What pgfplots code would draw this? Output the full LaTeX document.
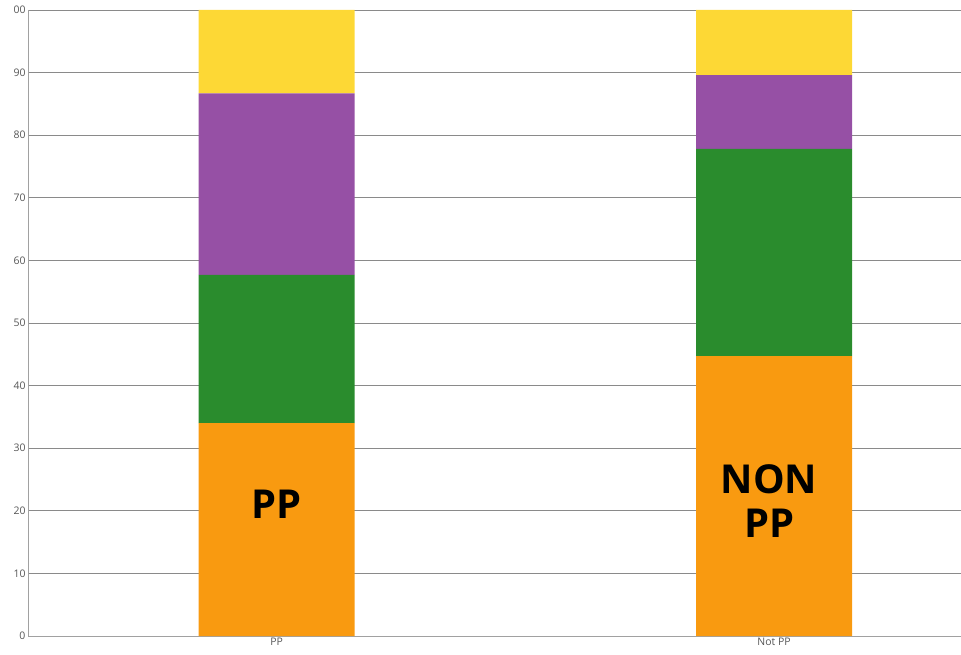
\documentclass[border=0pt]{standalone}
\usepackage{fontspec}
\setmainfont{Open Sans}
\usepackage{pgfplots}
\pgfplotsset{compat=1.18}

\definecolor{cOrange}{HTML}{F99A10}
\definecolor{cGreen}{HTML}{2A8C2D}
\definecolor{cPurple}{HTML}{9650A5}
\definecolor{cYellow}{HTML}{FDD835}
\definecolor{gridgray}{HTML}{8A8A8A}
\definecolor{labgray}{HTML}{555555}

\begin{document}
\begin{tikzpicture}
\begin{axis}[
    ybar stacked,
    scale only axis,
    width=933bp, height=626bp,
    bar width=156bp,
    xmin=-0.5, xmax=1.376,
    ymin=0, ymax=100,
    xtick={0,1},
    xticklabels={PP, Not PP},
    ytick={0,10,...,100},
    yticklabels={0,10,20,30,40,50,60,70,80,90,00},
    ymajorgrids,
    grid style={gridgray, line width=0.8bp},
    axis x line*=bottom,
    axis y line*=left,
    axis line style={gridgray!80, line width=0.8bp, -},
    tick style={gridgray, line width=0.6bp},
    major tick length=3bp,
    ytick style={draw=none},
    tick label style={font=\fontsize{10.5}{12}\selectfont, text=labgray},
    xticklabel style={yshift=1bp},
    yticklabel style={xshift=1bp},
    /pgf/number format/assume math mode=true,
    every axis plot/.append style={draw=none},
    clip=false,
]
\addplot[fill=cOrange] coordinates {(0,34.0) (1,44.7)};
\addplot[fill=cGreen]  coordinates {(0,23.7) (1,33.1)};
\addplot[fill=cPurple] coordinates {(0,29.0) (1,11.8)};
\addplot[fill=cYellow] coordinates {(0,13.3) (1,10.4)};
\coordinate (labA) at (axis cs:0,21);
\coordinate (labB) at (axis cs:0.99,21.5);
\coordinate (sw) at (rel axis cs:0,0);
\coordinate (ne) at (rel axis cs:1,1);
\end{axis}
\node[font=\fontsize{40}{44}\selectfont\bfseries, align=center] at (labA) {PP};
\node[font=\fontsize{40}{44}\selectfont\bfseries, align=center] at (labB) {NON\\PP};
\pgfresetboundingbox
\path ([shift={(-28bp,-19bp)}]sw) rectangle ([shift={(0bp,10bp)}]ne);
\end{tikzpicture}
\end{document}
